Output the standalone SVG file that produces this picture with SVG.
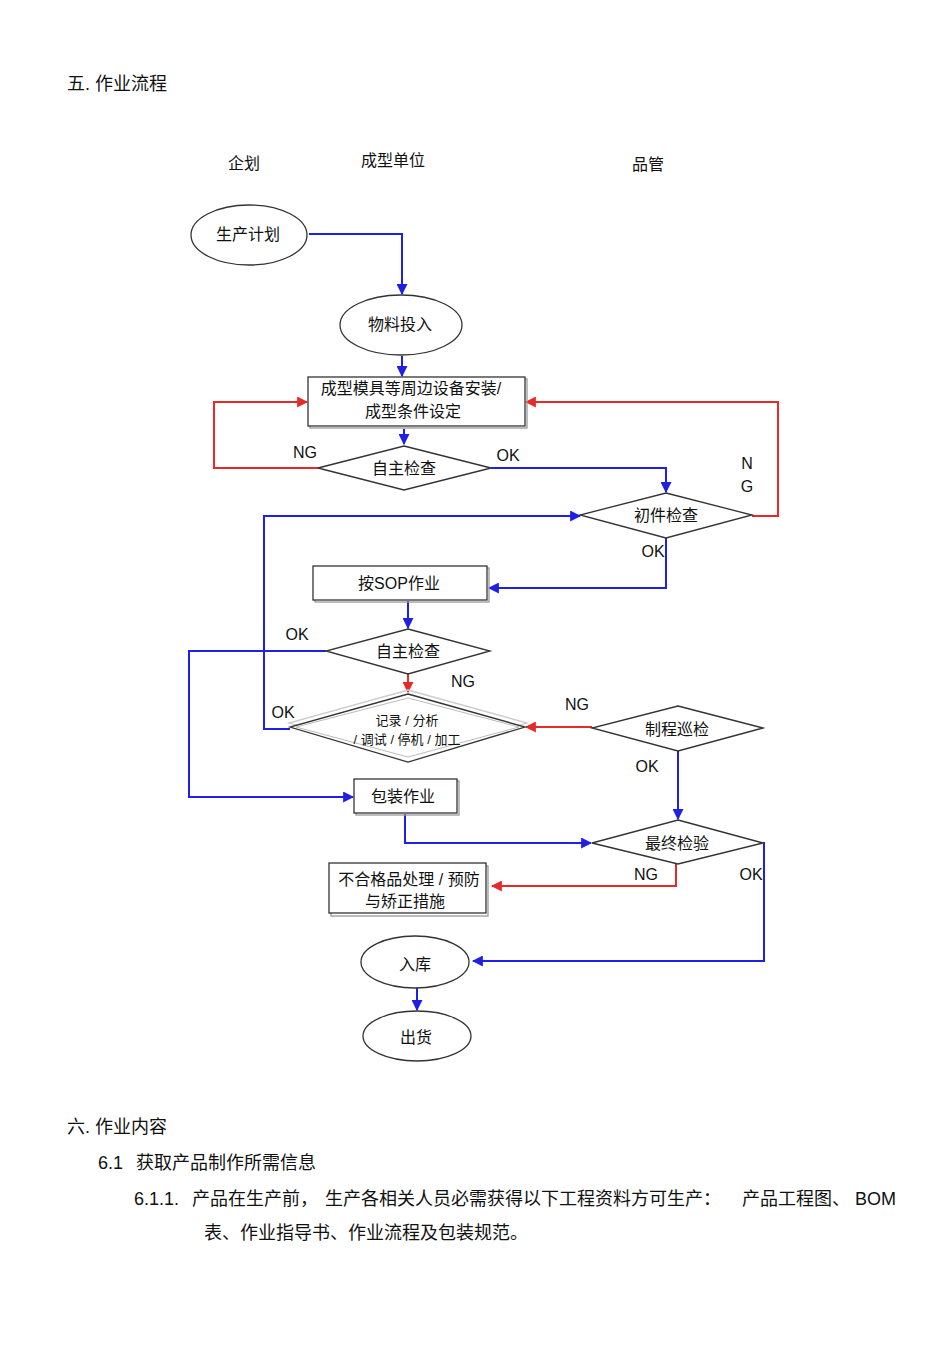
<svg xmlns="http://www.w3.org/2000/svg" width="950" height="1345" viewBox="0 0 950 1345">
<style>
text{font-family:"Liberation Sans","Noto Sans CJK SC",sans-serif;fill:#111}
.h{font-size:18px}
.col{font-size:16px}
.n{font-size:16px;text-anchor:middle}
.s{font-size:13px;text-anchor:middle}
.lb{font-size:16px;text-anchor:middle}
.shape{fill:#fff;stroke:#333;stroke-width:1.3}
.shadow{fill:none;stroke:#999;stroke-width:1.3}
.b{fill:none;stroke:#1f1fe6;stroke-width:2}
.r{fill:none;stroke:#e62a2a;stroke-width:2}
</style>
<defs>
<marker id="ab" viewBox="0 0 10 10" refX="9" refY="5" markerWidth="5.5" markerHeight="5.5" orient="auto" markerUnits="strokeWidth"><path d="M0,0L10,5L0,10z" fill="#1f1fe6"/></marker>
<marker id="ar" viewBox="0 0 10 10" refX="9" refY="5" markerWidth="5.5" markerHeight="5.5" orient="auto" markerUnits="strokeWidth"><path d="M0,0L10,5L0,10z" fill="#e62a2a"/></marker>
</defs>

<g id="headers">
<text class="h" x="67" y="90">五. 作业流程</text>
<text class="col" x="228" y="169">企划</text>
<text class="col" x="361" y="166">成型单位</text>
<text class="col" x="632" y="170">品管</text>
</g>

<g id="connectors">
<polyline class="b" points="309,234 402,234 402,294" marker-end="url(#ab)"/>
<polyline class="b" points="402,356 402,376" marker-end="url(#ab)"/>
<polyline class="b" points="404,429 404,444" marker-end="url(#ab)"/>
<polyline class="r" points="318,468 214,468 214,402 307,402" marker-end="url(#ar)"/>
<polyline class="b" points="491,468 666,468 666,492" marker-end="url(#ab)"/>
<polyline class="r" points="752,516 778,516 778,402 526,402" marker-end="url(#ar)"/>
<polyline class="b" points="666,538 666,588 489,588" marker-end="url(#ab)"/>
<polyline class="b" points="408,601 408,628" marker-end="url(#ab)"/>
<polyline class="b" points="326,651 189,651 189,797 353,797" marker-end="url(#ab)"/>
<polyline class="r" points="408,674 408,692" marker-end="url(#ar)"/>
<polyline class="b" points="290,729 264,729 264,516 580,516" marker-end="url(#ab)"/>
<polyline class="r" points="592,727 526,727" marker-end="url(#ar)"/>
<polyline class="b" points="678,751 678,819" marker-end="url(#ab)"/>
<polyline class="b" points="405,814 405,843 591,843" marker-end="url(#ab)"/>
<polyline class="r" points="676,864 676,886 492,886" marker-end="url(#ar)"/>
<polyline class="b" points="763,843 764,843 764,961 473,961" marker-end="url(#ab)"/>
<polyline class="b" points="417,988 417,1010" marker-end="url(#ab)"/>
</g>

<g id="labels">
<text class="lb" x="305" y="458">NG</text>
<text class="lb" x="508" y="461">OK</text>
<text class="lb" x="747" y="469">N</text>
<text class="lb" x="747" y="492">G</text>
<text class="lb" x="653" y="557">OK</text>
<text class="lb" x="297" y="640">OK</text>
<text class="lb" x="463" y="687">NG</text>
<text class="lb" x="283" y="718">OK</text>
<text class="lb" x="577" y="710">NG</text>
<text class="lb" x="647" y="772">OK</text>
<text class="lb" x="646" y="880">NG</text>
<text class="lb" x="751" y="880">OK</text>
</g>

<g id="n-plan">
<ellipse class="shape" cx="249" cy="235" rx="58" ry="30"/>
<text class="n" x="248" y="240">生产计划</text>
</g>
<g id="n-material">
<ellipse class="shape" cx="401" cy="325" rx="61" ry="30"/>
<text class="n" x="400" y="330">物料投入</text>
</g>
<g id="n-setup">
<rect class="shadow" x="310" y="379" width="217" height="49"/>
<rect class="shape" x="308" y="377" width="217" height="49"/>
<text class="n" x="411" y="394">成型模具等周边设备安装/</text>
<text class="n" x="413" y="417">成型条件设定</text>
</g>
<g id="n-selfcheck1">
<polygon class="shape" points="404,446 491,468 404,490 318,468"/>
<text class="n" x="404" y="474">自主检查</text>
</g>
<g id="n-firstcheck">
<polygon class="shape" points="666,493 752,515 666,538 580,515"/>
<text class="n" x="666" y="521">初件检查</text>
</g>
<g id="n-sop">
<rect class="shadow" x="315" y="568" width="174" height="34"/>
<rect class="shape" x="313" y="566" width="174" height="34"/>
<text class="n" x="399" y="589">按SOP作业</text>
</g>
<g id="n-selfcheck2">
<polygon class="shape" points="408,629 490,651 408,674 326,651"/>
<text class="n" x="408" y="657">自主检查</text>
</g>
<g id="n-record">
<polygon points="408,690 527,723 408,757 289,723" fill="none" stroke="#ccc" stroke-width="1.3"/>
<polygon class="shape" points="408,694 525,727 408,762 290,727"/>
<polygon points="408,698 519,727 408,757 296,727" fill="none" stroke="#bbb" stroke-width="1"/>
<text class="s" x="407" y="725">记录 / 分析</text>
<text class="s" x="407" y="744">/ 调试 / 停机 / 加工</text>
</g>
<g id="n-patrol">
<polygon class="shape" points="678,706 763,728 678,751 592,728"/>
<text class="n" x="677" y="735">制程巡检</text>
</g>
<g id="n-pack">
<rect class="shadow" x="356" y="781" width="103" height="34"/>
<rect class="shape" x="354" y="779" width="103" height="34"/>
<text class="n" x="403" y="802">包装作业</text>
</g>
<g id="n-final">
<polygon class="shape" points="678,820 763,843 678,864 592,843"/>
<text class="n" x="677" y="849">最终检验</text>
</g>
<g id="n-reject">
<rect class="shadow" x="331" y="866" width="157" height="50"/>
<rect class="shape" x="329" y="863" width="157" height="50"/>
<text class="n" x="409" y="885">不合格品处理 / 预防</text>
<text class="n" x="405" y="907">与矫正措施</text>
</g>
<g id="n-stock">
<ellipse class="shape" cx="415" cy="962" rx="54" ry="26"/>
<text class="n" x="415" y="970">入库</text>
</g>
<g id="n-ship">
<ellipse class="shape" cx="417" cy="1036" rx="54" ry="25"/>
<text class="n" x="416" y="1043">出货</text>
</g>

<g id="body">
<text class="h" x="67" y="1133">六. 作业内容</text>
<text class="h" x="98" y="1169">6.1</text>
<text class="h" x="136" y="1169">获取产品制作所需信息</text>
<text class="h" x="134" y="1205">6.1.1.</text>
<text class="h" x="192" y="1205">产品在生产前，</text>
<text class="h" x="325" y="1205">生产各相关人员必需获得以下工程资料方可生产：</text>
<text class="h" x="742" y="1205">产品工程图、</text>
<text class="h" x="855" y="1205">BOM</text>
<text class="h" x="204" y="1239">表、作业指导书、作业流程及包装规范。</text>
</g>
</svg>
